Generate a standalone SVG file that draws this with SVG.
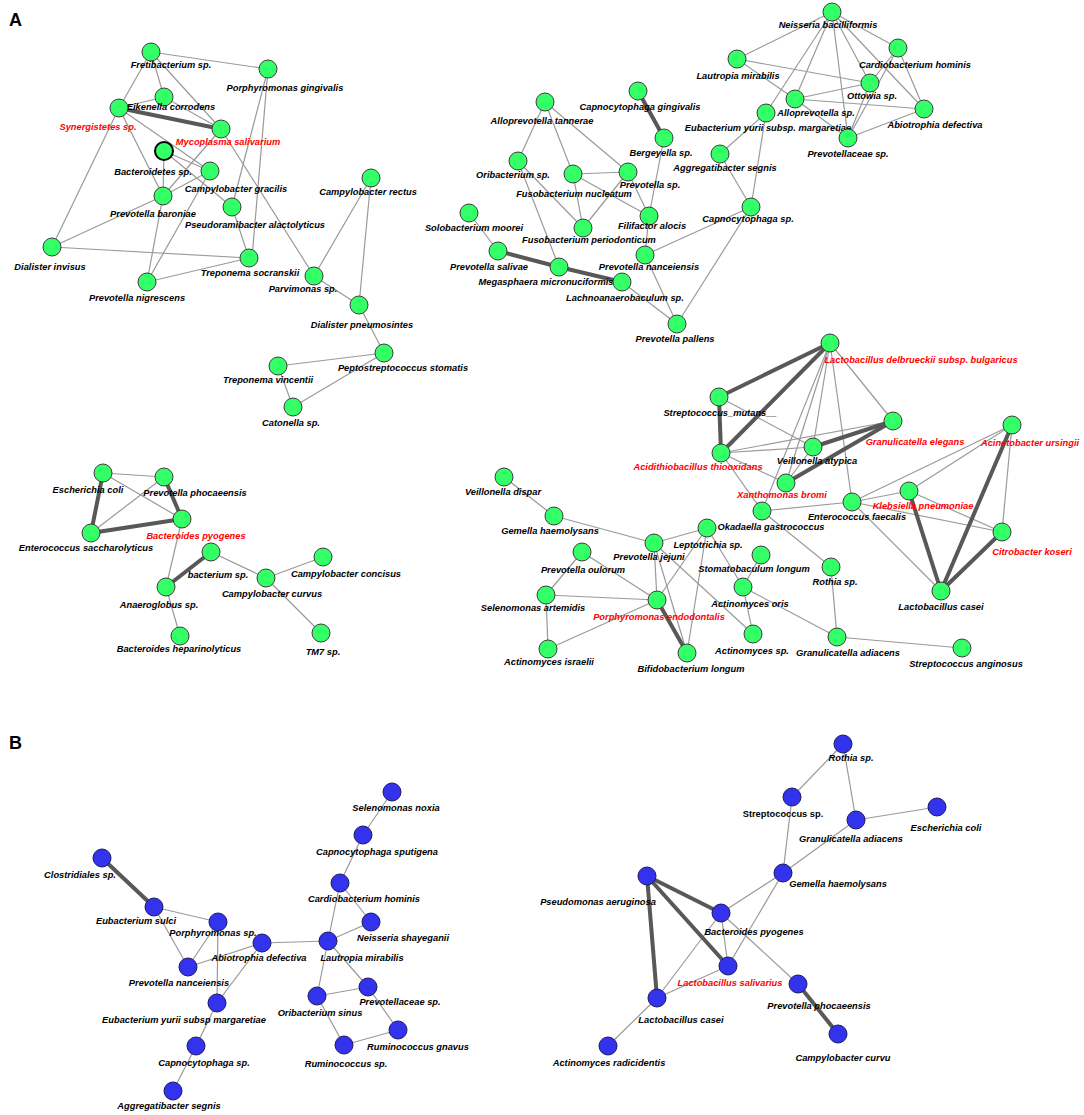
<svg xmlns="http://www.w3.org/2000/svg" width="1084" height="1115" viewBox="0 0 1084 1115">
<style>
.e{stroke:#9a9a9a;stroke-width:1.2;fill:none}
.t{stroke:#585858;stroke-width:4;fill:none}
.g{fill:#33ff66;stroke:#3c3c3c;stroke-width:1}
.b{fill:#3333ee;stroke:#1a1a60;stroke-width:1}
text{font-family:"Liberation Sans",Arial,sans-serif;font-weight:bold;font-style:italic;font-size:9.3px;text-anchor:middle;fill:#000}
.r{fill:#ff0000}
.u{font-style:normal}
.p{font-size:18px;font-style:normal;text-anchor:start}
</style>
<rect width="1084" height="1115" fill="#fff"/>
<text class="p" x="9" y="26">A</text>
<text class="p" x="9" y="749">B</text>
<g id="connectors">
<!-- cluster 1 -->
<line class="e" x1="151" y1="52" x2="268" y2="69"/>
<line class="e" x1="151" y1="52" x2="119" y2="108"/>
<line class="e" x1="151" y1="52" x2="164" y2="97"/>
<line class="e" x1="151" y1="52" x2="221" y2="129"/>
<line class="e" x1="119" y1="108" x2="164" y2="97"/>
<line class="e" x1="164" y1="97" x2="221" y2="129"/>
<line class="e" x1="119" y1="108" x2="210" y2="171"/>
<line class="e" x1="119" y1="108" x2="163" y2="196"/>
<line class="e" x1="119" y1="108" x2="52" y2="247"/>
<line class="e" x1="164" y1="151" x2="163" y2="196"/>
<line class="e" x1="164" y1="151" x2="210" y2="171"/>
<line class="e" x1="164" y1="151" x2="232" y2="207"/>
<line class="e" x1="221" y1="129" x2="163" y2="196"/>
<line class="e" x1="221" y1="129" x2="314" y2="276"/>
<line class="e" x1="210" y1="171" x2="163" y2="196"/>
<line class="e" x1="210" y1="171" x2="147" y2="282"/>
<line class="e" x1="163" y1="196" x2="52" y2="247"/>
<line class="e" x1="163" y1="196" x2="147" y2="282"/>
<line class="e" x1="232" y1="207" x2="249" y2="258"/>
<line class="e" x1="52" y1="247" x2="249" y2="258"/>
<line class="e" x1="147" y1="282" x2="249" y2="258"/>
<line class="e" x1="268" y1="69" x2="252" y2="258"/>
<line class="e" x1="268" y1="69" x2="232" y2="207"/>
<line class="e" x1="314" y1="276" x2="371" y2="178"/>
<line class="e" x1="314" y1="276" x2="359" y2="305"/>
<line class="e" x1="371" y1="178" x2="359" y2="305"/>
<line class="e" x1="359" y1="305" x2="384" y2="353"/>
<line class="e" x1="384" y1="353" x2="278" y2="366"/>
<line class="e" x1="384" y1="353" x2="293" y2="407"/>
<line class="e" x1="278" y1="366" x2="293" y2="407"/>
<line class="t" x1="119" y1="108" x2="221" y2="129"/>
<!-- cluster 2 -->
<line class="e" x1="664" y1="138" x2="649" y2="216"/>
<line class="e" x1="545" y1="102" x2="518" y2="161"/>
<line class="e" x1="545" y1="102" x2="573" y2="174"/>
<line class="e" x1="545" y1="102" x2="628" y2="172"/>
<line class="e" x1="518" y1="161" x2="583" y2="228"/>
<line class="e" x1="518" y1="161" x2="559" y2="267"/>
<line class="e" x1="573" y1="174" x2="628" y2="172"/>
<line class="e" x1="573" y1="174" x2="583" y2="228"/>
<line class="e" x1="573" y1="174" x2="649" y2="216"/>
<line class="e" x1="628" y1="172" x2="583" y2="228"/>
<line class="e" x1="628" y1="172" x2="649" y2="216"/>
<line class="e" x1="649" y1="216" x2="645" y2="255"/>
<line class="e" x1="469" y1="213" x2="498" y2="251"/>
<line class="e" x1="622" y1="282" x2="677" y2="324"/>
<line class="e" x1="645" y1="255" x2="677" y2="324"/>
<line class="e" x1="645" y1="255" x2="751" y2="207"/>
<line class="e" x1="677" y1="324" x2="751" y2="207"/>
<line class="e" x1="720" y1="154" x2="751" y2="207"/>
<line class="e" x1="720" y1="154" x2="766" y2="113"/>
<line class="e" x1="766" y1="113" x2="751" y2="207"/>
<line class="e" x1="766" y1="113" x2="832" y2="12"/>
<line class="e" x1="737" y1="59" x2="832" y2="12"/>
<line class="e" x1="737" y1="59" x2="870" y2="83"/>
<line class="e" x1="737" y1="59" x2="795" y2="99"/>
<line class="e" x1="795" y1="99" x2="848" y2="138"/>
<line class="e" x1="832" y1="12" x2="795" y2="99"/>
<line class="e" x1="832" y1="12" x2="870" y2="83"/>
<line class="e" x1="832" y1="12" x2="848" y2="138"/>
<line class="e" x1="832" y1="12" x2="898" y2="48"/>
<line class="e" x1="832" y1="12" x2="924" y2="109"/>
<line class="e" x1="795" y1="99" x2="870" y2="83"/>
<line class="e" x1="795" y1="99" x2="924" y2="109"/>
<line class="e" x1="870" y1="83" x2="848" y2="138"/>
<line class="e" x1="898" y1="48" x2="848" y2="138"/>
<line class="e" x1="898" y1="48" x2="870" y2="83"/>
<line class="e" x1="898" y1="48" x2="924" y2="109"/>
<line class="e" x1="924" y1="109" x2="848" y2="138"/>
<line class="t" x1="638" y1="91" x2="664" y2="138"/>
<line class="t" x1="498" y1="251" x2="559" y2="267"/>
<line class="t" x1="559" y1="267" x2="622" y2="282"/>
<!-- cluster 3 -->
<line class="e" x1="830" y1="343" x2="813" y2="447"/>
<line class="e" x1="830" y1="343" x2="786" y2="483"/>
<line class="e" x1="830" y1="343" x2="762" y2="511"/>
<line class="e" x1="830" y1="343" x2="852" y2="502"/>
<line class="e" x1="830" y1="343" x2="893" y2="421"/>
<line class="e" x1="719" y1="397" x2="813" y2="447"/>
<line class="e" x1="721" y1="453" x2="813" y2="447"/>
<line class="e" x1="721" y1="453" x2="893" y2="421"/>
<line class="e" x1="721" y1="453" x2="786" y2="483"/>
<line class="e" x1="721" y1="453" x2="762" y2="511"/>
<line class="e" x1="813" y1="447" x2="786" y2="483"/>
<line class="e" x1="762" y1="511" x2="852" y2="502"/>
<line class="e" x1="762" y1="511" x2="831" y2="567"/>
<line class="e" x1="852" y1="502" x2="1012" y2="425"/>
<line class="e" x1="852" y1="502" x2="909" y2="491"/>
<line class="e" x1="852" y1="502" x2="1002" y2="532"/>
<line class="e" x1="852" y1="502" x2="941" y2="591"/>
<line class="e" x1="909" y1="491" x2="1012" y2="425"/>
<line class="e" x1="909" y1="491" x2="1002" y2="532"/>
<line class="e" x1="1012" y1="425" x2="1002" y2="532"/>
<line class="e" x1="831" y1="567" x2="837" y2="637"/>
<line class="e" x1="837" y1="637" x2="962" y2="648"/>
<line class="e" x1="743" y1="587" x2="837" y2="637"/>
<line class="e" x1="743" y1="587" x2="753" y2="634"/>
<line class="e" x1="743" y1="587" x2="761" y2="555"/>
<line class="e" x1="707" y1="528" x2="743" y2="587"/>
<line class="e" x1="707" y1="528" x2="654" y2="543"/>
<line class="e" x1="707" y1="528" x2="657" y2="600"/>
<line class="e" x1="707" y1="528" x2="687" y2="653"/>
<line class="e" x1="654" y1="543" x2="554" y2="516"/>
<line class="e" x1="654" y1="543" x2="657" y2="600"/>
<line class="e" x1="654" y1="543" x2="687" y2="653"/>
<line class="e" x1="654" y1="543" x2="753" y2="634"/>
<line class="e" x1="554" y1="516" x2="504" y2="477"/>
<line class="e" x1="582" y1="552" x2="546" y2="595"/>
<line class="e" x1="582" y1="552" x2="657" y2="600"/>
<line class="e" x1="546" y1="595" x2="657" y2="600"/>
<line class="e" x1="546" y1="595" x2="548" y2="649"/>
<line class="e" x1="548" y1="649" x2="657" y2="600"/>
<line class="t" x1="830" y1="343" x2="719" y2="397"/>
<line class="t" x1="830" y1="343" x2="721" y2="453"/>
<line class="t" x1="719" y1="397" x2="721" y2="453"/>
<line class="t" x1="813" y1="447" x2="893" y2="421"/>
<line class="t" x1="786" y1="483" x2="893" y2="421"/>
<line class="t" x1="909" y1="491" x2="941" y2="591"/>
<line class="t" x1="1012" y1="425" x2="941" y2="591"/>
<line class="t" x1="1002" y1="532" x2="941" y2="591"/>
<line class="t" x1="657" y1="600" x2="687" y2="653"/>
<!-- cluster 4 -->
<line class="e" x1="103" y1="473" x2="164" y2="477"/>
<line class="e" x1="103" y1="473" x2="182" y2="519"/>
<line class="e" x1="164" y1="477" x2="91" y2="533"/>
<line class="e" x1="182" y1="519" x2="166" y2="587"/>
<line class="e" x1="211" y1="552" x2="266" y2="578"/>
<line class="e" x1="266" y1="578" x2="323" y2="557"/>
<line class="e" x1="266" y1="578" x2="321" y2="633"/>
<line class="e" x1="166" y1="587" x2="180" y2="636"/>
<line class="t" x1="103" y1="473" x2="91" y2="533"/>
<line class="t" x1="164" y1="477" x2="182" y2="519"/>
<line class="t" x1="91" y1="533" x2="182" y2="519"/>
<line class="t" x1="211" y1="552" x2="166" y2="587"/>
<!-- panel B left -->
<line class="e" x1="154" y1="907" x2="218" y2="922"/>
<line class="e" x1="154" y1="907" x2="188" y2="967"/>
<line class="e" x1="218" y1="922" x2="188" y2="967"/>
<line class="e" x1="218" y1="922" x2="217" y2="1003"/>
<line class="e" x1="188" y1="967" x2="262" y2="943"/>
<line class="e" x1="262" y1="943" x2="217" y2="1003"/>
<line class="e" x1="262" y1="943" x2="328" y2="941"/>
<line class="e" x1="217" y1="1003" x2="196" y2="1046"/>
<line class="e" x1="196" y1="1046" x2="173" y2="1091"/>
<line class="e" x1="328" y1="941" x2="340" y2="883"/>
<line class="e" x1="328" y1="941" x2="371" y2="922"/>
<line class="e" x1="328" y1="941" x2="317" y2="996"/>
<line class="e" x1="328" y1="941" x2="368" y2="987"/>
<line class="e" x1="317" y1="996" x2="368" y2="987"/>
<line class="e" x1="317" y1="996" x2="344" y2="1045"/>
<line class="e" x1="344" y1="1045" x2="398" y2="1030"/>
<line class="e" x1="368" y1="987" x2="398" y2="1030"/>
<line class="e" x1="340" y1="883" x2="363" y2="835"/>
<line class="e" x1="340" y1="883" x2="371" y2="922"/>
<line class="e" x1="363" y1="835" x2="392" y2="792"/>
<line class="t" x1="102" y1="858" x2="154" y2="907"/>
<!-- panel B right -->
<line class="e" x1="843" y1="744" x2="792" y2="797"/>
<line class="e" x1="843" y1="744" x2="856" y2="820"/>
<line class="e" x1="792" y1="797" x2="783" y2="873"/>
<line class="e" x1="856" y1="820" x2="937" y2="807"/>
<line class="e" x1="856" y1="820" x2="783" y2="873"/>
<line class="e" x1="783" y1="873" x2="721" y2="913"/>
<line class="e" x1="783" y1="873" x2="728" y2="966"/>
<line class="e" x1="721" y1="913" x2="728" y2="966"/>
<line class="e" x1="721" y1="913" x2="798" y2="984"/>
<line class="e" x1="721" y1="913" x2="657" y2="998"/>
<line class="e" x1="728" y1="966" x2="657" y2="998"/>
<line class="e" x1="657" y1="998" x2="608" y2="1046"/>
<line class="t" x1="647" y1="876" x2="721" y2="913"/>
<line class="t" x1="647" y1="876" x2="728" y2="966"/>
<line class="t" x1="647" y1="876" x2="657" y2="998"/>
<line class="t" x1="798" y1="984" x2="838" y2="1034"/>
</g>
<g id="nodes">
<g id="n-fret"><circle class="g" cx="151" cy="52" r="9"/><text x="171" y="68">Fretibacterium sp.</text></g>
<g id="n-pgin"><circle class="g" cx="268" cy="69" r="9"/><text x="285" y="91">Porphyromonas gingivalis</text></g>
<g id="n-eike"><circle class="g" cx="164" cy="97" r="9"/><text x="171" y="110">Eikenella corrodens</text></g>
<g id="n-syne"><circle class="g" cx="119" cy="108" r="9"/><text class="r" x="98" y="130">Synergistetes sp.</text></g>
<g id="n-myco"><circle class="g" cx="221" cy="129" r="9"/><text class="r" x="228" y="145">Mycoplasma salivarium</text></g>
<g id="n-bact"><circle class="g" cx="164" cy="151" r="9" style="stroke:#000;stroke-width:2"/><text x="153" y="175">Bacteroidetes sp.</text></g>
<g id="n-cgra"><circle class="g" cx="210" cy="171" r="9"/><text x="236" y="192">Campylobacter gracilis</text></g>
<g id="n-pbar"><circle class="g" cx="163" cy="196" r="9"/><text x="153" y="217">Prevotella baroniae</text></g>
<g id="n-pseu"><circle class="g" cx="232" cy="207" r="9"/><text x="255" y="228">Pseudoramibacter alactolyticus</text></g>
<g id="n-dinv"><circle class="g" cx="52" cy="247" r="9"/><text x="50" y="270">Dialister invisus</text></g>
<g id="n-tsoc"><circle class="g" cx="249" cy="258" r="9"/><text x="250" y="276">Treponema socranskii</text></g>
<g id="n-pnig"><circle class="g" cx="147" cy="282" r="9"/><text x="137" y="301">Prevotella nigrescens</text></g>
<g id="n-parv"><circle class="g" cx="314" cy="276" r="9"/><text x="303" y="292">Parvimonas sp.</text></g>
<g id="n-crec"><circle class="g" cx="371" cy="178" r="9"/><text x="368" y="195">Campylobacter rectus</text></g>
<g id="n-dpne"><circle class="g" cx="359" cy="305" r="9"/><text x="362" y="328">Dialister pneumosintes</text></g>
<g id="n-pept"><circle class="g" cx="384" cy="353" r="9"/><text x="403" y="371">Peptostreptococcus stomatis</text></g>
<g id="n-tvin"><circle class="g" cx="278" cy="366" r="9"/><text x="268" y="383">Treponema vincentii</text></g>
<g id="n-cato"><circle class="g" cx="293" cy="407" r="9"/><text x="291" y="426">Catonella sp.</text></g>

<g id="n-cgin"><circle class="g" cx="638" cy="91" r="9"/><text x="640" y="110">Capnocytophaga gingivalis</text></g>
<g id="n-berg"><circle class="g" cx="664" cy="138" r="9"/><text x="661" y="156">Bergeyella sp.</text></g>
<g id="n-atan"><circle class="g" cx="545" cy="102" r="9"/><text x="542" y="124">Alloprevotella tannerae</text></g>
<g id="n-orib"><circle class="g" cx="518" cy="161" r="9"/><text x="513" y="178">Oribacterium sp.</text></g>
<g id="n-fnuc"><circle class="g" cx="573" cy="174" r="9"/><text x="574" y="197">Fusobacterium nucleatum</text></g>
<g id="n-prsp"><circle class="g" cx="628" cy="172" r="9"/><text x="650" y="188">Prevotella sp.</text></g>
<g id="n-fali"><circle class="g" cx="649" cy="216" r="9"/><text x="652" y="229">Filifactor alocis</text></g>
<g id="n-fper"><circle class="g" cx="583" cy="228" r="9"/><text x="589" y="243">Fusobacterium periodonticum</text></g>
<g id="n-smoo"><circle class="g" cx="469" cy="213" r="9"/><text x="474" y="231">Solobacterium moorei</text></g>
<g id="n-psal"><circle class="g" cx="498" cy="251" r="9"/><text x="489" y="270">Prevotella salivae</text></g>
<g id="n-mmic"><circle class="g" cx="559" cy="267" r="9"/><text x="546" y="285">Megasphaera micronuciformis</text></g>
<g id="n-lach"><circle class="g" cx="622" cy="282" r="9"/><text x="625" y="301">Lachnoanaerobaculum sp.</text></g>
<g id="n-pnan"><circle class="g" cx="645" cy="255" r="9"/><text x="649" y="270">Prevotella nanceiensis</text></g>
<g id="n-ppal"><circle class="g" cx="677" cy="324" r="9"/><text x="675" y="342">Prevotella pallens</text></g>
<g id="n-capsp"><circle class="g" cx="751" cy="207" r="9"/><text x="748" y="222">Capnocytophaga sp.</text></g>
<g id="n-aseg"><circle class="g" cx="720" cy="154" r="9"/><text x="725" y="171">Aggregatibacter segnis</text></g>
<g id="n-euby"><circle class="g" cx="766" cy="113" r="9"/><text x="768" y="131">Eubacterium yurii subsp. margaretiae</text></g>
<g id="n-laut"><circle class="g" cx="737" cy="59" r="9"/><text x="738" y="79">Lautropia mirabilis</text></g>
<g id="n-neis"><circle class="g" cx="832" cy="12" r="9"/><text x="828" y="28">Neisseria bacilliformis</text></g>
<g id="n-card"><circle class="g" cx="898" cy="48" r="9"/><text x="915" y="68">Cardiobacterium hominis</text></g>
<g id="n-otto"><circle class="g" cx="870" cy="83" r="9"/><text x="872" y="99">Ottowia sp.</text></g>
<g id="n-allo"><circle class="g" cx="795" cy="99" r="9"/><text x="816" y="116">Alloprevotella sp.</text></g>
<g id="n-abio"><circle class="g" cx="924" cy="109" r="9"/><text x="935" y="128">Abiotrophia defectiva</text></g>
<g id="n-prevc"><circle class="g" cx="848" cy="138" r="9"/><text x="848" y="157">Prevotellaceae sp.</text></g>

<g id="n-ldel"><circle class="g" cx="830" cy="343" r="9"/><text class="r" x="921" y="363">Lactobacillus delbrueckii subsp. bulgaricus</text></g>
<g id="n-smut"><circle class="g" cx="719" cy="397" r="9"/><text x="720" y="416">Streptococcus_mutans__</text></g>
<g id="n-acid"><circle class="g" cx="721" cy="453" r="9"/><text class="r" x="698" y="470">Acidithiobacillus thiooxidans</text></g>
<g id="n-vaty"><circle class="g" cx="813" cy="447" r="9"/><text x="817" y="464">Veillonella atypica</text></g>
<g id="n-gele"><circle class="g" cx="893" cy="421" r="9"/><text class="r" x="915" y="445">Granulicatella elegans</text></g>
<g id="n-xbro"><circle class="g" cx="786" cy="483" r="9"/><text class="r" x="782" y="498">Xanthomonas bromi</text></g>
<g id="n-efae"><circle class="g" cx="852" cy="502" r="9"/><text x="857" y="520">Enterococcus faecalis</text></g>
<g id="n-okad"><circle class="g" cx="762" cy="511" r="9"/><text x="771" y="530">Okadaella gastrococcus</text></g>
<g id="n-kpne"><circle class="g" cx="909" cy="491" r="9"/><text class="r" x="923" y="509">Klebsiella pneumoniae</text></g>
<g id="n-acin"><circle class="g" cx="1012" cy="425" r="9"/><text class="r" x="1030" y="446">Acinetobacter ursingii</text></g>
<g id="n-citr"><circle class="g" cx="1002" cy="532" r="9"/><text class="r" x="1032" y="555">Citrobacter koseri</text></g>
<g id="n-lcas"><circle class="g" cx="941" cy="591" r="9"/><text x="941" y="610">Lactobacillus casei</text></g>
<g id="n-roth"><circle class="g" cx="831" cy="567" r="9"/><text x="835" y="585">Rothia sp.</text></g>
<g id="n-gadi"><circle class="g" cx="837" cy="637" r="9"/><text x="848" y="656">Granulicatella adiacens</text></g>
<g id="n-sang"><circle class="g" cx="962" cy="648" r="9"/><text x="966" y="667">Streptococcus anginosus</text></g>
<g id="n-stom"><circle class="g" cx="761" cy="555" r="9"/><text x="754" y="572">Stomatobaculum longum</text></g>
<g id="n-aori"><circle class="g" cx="743" cy="587" r="9"/><text x="750" y="607">Actinomyces oris</text></g>
<g id="n-acsp"><circle class="g" cx="753" cy="634" r="9"/><text x="752" y="654">Actinomyces sp.</text></g>
<g id="n-lept"><circle class="g" cx="707" cy="528" r="9"/><text x="708" y="548">Leptotrichia sp.</text></g>
<g id="n-pjej"><circle class="g" cx="654" cy="543" r="9"/><text x="649" y="560">Prevotella jejuni</text></g>
<g id="n-pend"><circle class="g" cx="657" cy="600" r="9"/><text class="r" x="659" y="620">Porphyromonas endodontalis</text></g>
<g id="n-bifi"><circle class="g" cx="687" cy="653" r="9"/><text x="691" y="672">Bifidobacterium longum</text></g>
<g id="n-poul"><circle class="g" cx="582" cy="552" r="9"/><text x="583" y="573">Prevotella oulorum</text></g>
<g id="n-gema"><circle class="g" cx="554" cy="516" r="9"/><text x="550" y="534">Gemella haemolysans</text></g>
<g id="n-vdis"><circle class="g" cx="504" cy="477" r="9"/><text x="503" y="495">Veillonella dispar</text></g>
<g id="n-sele"><circle class="g" cx="546" cy="595" r="9"/><text x="533" y="611">Selenomonas artemidis</text></g>
<g id="n-aisr"><circle class="g" cx="548" cy="649" r="9"/><text x="549" y="665">Actinomyces israelii</text></g>

<g id="n-ecol"><circle class="g" cx="103" cy="473" r="9"/><text x="88" y="493">Escherichia coli</text></g>
<g id="n-pphoc"><circle class="g" cx="164" cy="477" r="9"/><text x="195" y="496">Prevotella phocaeensis</text></g>
<g id="n-bpyo"><circle class="g" cx="182" cy="519" r="9"/><text class="r" x="196" y="539">Bacteroides pyogenes</text></g>
<g id="n-esac"><circle class="g" cx="91" cy="533" r="9"/><text x="86" y="551">Enterococcus saccharolyticus</text></g>
<g id="n-bsp"><circle class="g" cx="211" cy="552" r="9"/><text x="218" y="578">bacterium sp.</text></g>
<g id="n-anae"><circle class="g" cx="166" cy="587" r="9"/><text x="159" y="608">Anaeroglobus sp.</text></g>
<g id="n-ccur"><circle class="g" cx="266" cy="578" r="9"/><text x="272" y="597">Campylobacter curvus</text></g>
<g id="n-ccon"><circle class="g" cx="323" cy="557" r="9"/><text x="346" y="577">Campylobacter concisus</text></g>
<g id="n-tm7"><circle class="g" cx="321" cy="633" r="9"/><text x="323" y="655">TM7 sp.</text></g>
<g id="n-bhep"><circle class="g" cx="180" cy="636" r="9"/><text x="179" y="652">Bacteroides heparinolyticus</text></g>

<g id="n-clos"><circle class="b" cx="102" cy="858" r="9"/><text x="80" y="878">Clostridiales sp.</text></g>
<g id="n-esul"><circle class="b" cx="154" cy="907" r="9"/><text x="136" y="924">Eubacterium sulci</text></g>
<g id="n-porsp"><circle class="b" cx="218" cy="922" r="9"/><text x="213" y="936">Porphyromonas sp.</text></g>
<g id="n-abiB"><circle class="b" cx="262" cy="943" r="9"/><text x="259" y="961">Abiotrophia defectiva</text></g>
<g id="n-pnanB"><circle class="b" cx="188" cy="967" r="9"/><text x="179" y="986">Prevotella nanceiensis</text></g>
<g id="n-eyurB"><circle class="b" cx="217" cy="1003" r="9"/><text x="184" y="1023">Eubacterium yurii subsp margaretiae</text></g>
<g id="n-capB"><circle class="b" cx="196" cy="1046" r="9"/><text x="204" y="1066">Capnocytophaga sp.</text></g>
<g id="n-asegB"><circle class="b" cx="173" cy="1091" r="9"/><text x="169" y="1109">Aggregatibacter segnis</text></g>
<g id="n-lautB"><circle class="b" cx="328" cy="941" r="9"/><text x="362" y="961">Lautropia mirabilis</text></g>
<g id="n-cardB"><circle class="b" cx="340" cy="883" r="9"/><text x="364" y="902">Cardiobacterium hominis</text></g>
<g id="n-oribB"><circle class="b" cx="317" cy="996" r="9"/><text x="320" y="1016">Oribacterium sinus</text></g>
<g id="n-rumsp"><circle class="b" cx="344" cy="1045" r="9"/><text x="346" y="1067">Ruminococcus sp.</text></g>
<g id="n-csput"><circle class="b" cx="363" cy="835" r="9"/><text x="377" y="855">Capnocytophaga sputigena</text></g>
<g id="n-snox"><circle class="b" cx="392" cy="792" r="9"/><text x="396" y="811">Selenomonas noxia</text></g>
<g id="n-nsha"><circle class="b" cx="371" cy="922" r="9"/><text x="403" y="941">Neisseria shayeganii</text></g>
<g id="n-prevB"><circle class="b" cx="368" cy="987" r="9"/><text x="400" y="1005">Prevotellaceae sp.</text></g>
<g id="n-rgna"><circle class="b" cx="398" cy="1030" r="9"/><text x="418" y="1050">Ruminococcus gnavus</text></g>

<g id="n-paer"><circle class="b" cx="647" cy="876" r="9"/><text x="598" y="905">Pseudomonas aeruginosa</text></g>
<g id="n-bpyoB"><circle class="b" cx="721" cy="913" r="9"/><text x="754" y="935">Bacteroides pyogenes</text></g>
<g id="n-lsal"><circle class="b" cx="728" cy="966" r="9"/><text class="r" x="730" y="986">Lactobacillus salivarius</text></g>
<g id="n-lcasB"><circle class="b" cx="657" cy="998" r="9"/><text x="681" y="1023">Lactobacillus casei</text></g>
<g id="n-arad"><circle class="b" cx="608" cy="1046" r="9"/><text x="609" y="1066">Actinomyces radicidentis</text></g>
<g id="n-rothB"><circle class="b" cx="843" cy="744" r="9"/><text x="851" y="761">Rothia sp.</text></g>
<g id="n-strB"><circle class="b" cx="792" cy="797" r="9"/><text class="u" x="783" y="817">Streptococcus sp.</text></g>
<g id="n-gadiB"><circle class="b" cx="856" cy="820" r="9"/><text x="851" y="842">Granulicatella adiacens</text></g>
<g id="n-ecolB"><circle class="b" cx="937" cy="807" r="9"/><text x="946" y="831">Escherichia coli</text></g>
<g id="n-gemB"><circle class="b" cx="783" cy="873" r="9"/><text x="838" y="887">Gemella haemolysans</text></g>
<g id="n-pphocB"><circle class="b" cx="798" cy="984" r="9"/><text x="819" y="1009">Prevotella phocaeensis</text></g>
<g id="n-ccurB"><circle class="b" cx="838" cy="1034" r="9"/><text x="843" y="1061">Campylobacter curvu</text></g>
</g>
</svg>
